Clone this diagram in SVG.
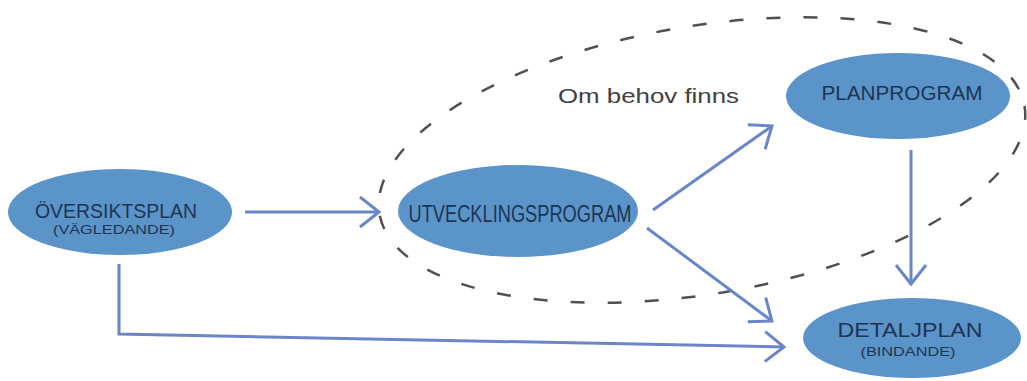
<svg xmlns="http://www.w3.org/2000/svg" width="1027" height="381" viewBox="0 0 1027 381">
<style>
.node{fill:#5b94c9;}
.lbl{font-family:"Liberation Sans",Arial,sans-serif;fill:#1d3553;text-anchor:middle;}
.conn{fill:none;stroke:#6a86c6;stroke-width:3;}
.dash{fill:none;stroke:#505050;stroke-width:2.5;stroke-dasharray:14 23;}
.note{font-family:"Liberation Sans",Arial,sans-serif;fill:#404040;}
</style>
<defs>
<marker id="arr" markerUnits="userSpaceOnUse" viewBox="-24 -20 30 40" refX="0" refY="0" markerWidth="30" markerHeight="40" orient="auto">
<path d="M-19,-15 L0,0 L-19,15" fill="none" stroke="#6a86c6" stroke-width="3"/>
</marker>
</defs>
<rect width="1027" height="381" fill="#ffffff"/>
<g id="group-om-behov">
<ellipse class="dash" cx="702" cy="160" rx="327" ry="134" transform="rotate(-9.5 702 160)"/>
<text class="note" x="558" y="103" font-size="20" textLength="181" lengthAdjust="spacingAndGlyphs">Om behov finns</text>
</g>
<g id="connectors">
<line class="conn" x1="245" y1="212" x2="379" y2="212" marker-end="url(#arr)"/>
<line class="conn" x1="653" y1="210" x2="772" y2="126" marker-end="url(#arr)"/>
<line class="conn" x1="911" y1="150" x2="911" y2="284" marker-end="url(#arr)"/>
<line class="conn" x1="647" y1="228" x2="772" y2="321" marker-end="url(#arr)"/>
<polyline class="conn" points="119,264 119,334 784,347" marker-end="url(#arr)"/>
</g>
<g id="oversiktsplan">
<ellipse class="node" cx="120" cy="212" rx="112" ry="43"/>
<text class="lbl" x="116" y="218" font-size="20" textLength="162" lengthAdjust="spacingAndGlyphs">ÖVERSIKTSPLAN</text>
<text class="lbl" x="114" y="234" font-size="13" textLength="122" lengthAdjust="spacingAndGlyphs">(VÄGLEDANDE)</text>
</g>
<g id="utvecklingsprogram">
<ellipse class="node" cx="518" cy="211" rx="120" ry="46"/>
<text class="lbl" x="520" y="222" font-size="23" textLength="223" lengthAdjust="spacingAndGlyphs">UTVECKLINGSPROGRAM</text>
</g>
<g id="planprogram">
<ellipse class="node" cx="898" cy="96" rx="112" ry="43"/>
<text class="lbl" x="902" y="100" font-size="21" textLength="161" lengthAdjust="spacingAndGlyphs">PLANPROGRAM</text>
</g>
<g id="detaljplan">
<ellipse class="node" cx="912" cy="338" rx="109" ry="40"/>
<text class="lbl" x="910" y="337" font-size="21" textLength="145" lengthAdjust="spacingAndGlyphs">DETALJPLAN</text>
<text class="lbl" x="908" y="356" font-size="12" textLength="95" lengthAdjust="spacingAndGlyphs">(BINDANDE)</text>
</g>
</svg>
